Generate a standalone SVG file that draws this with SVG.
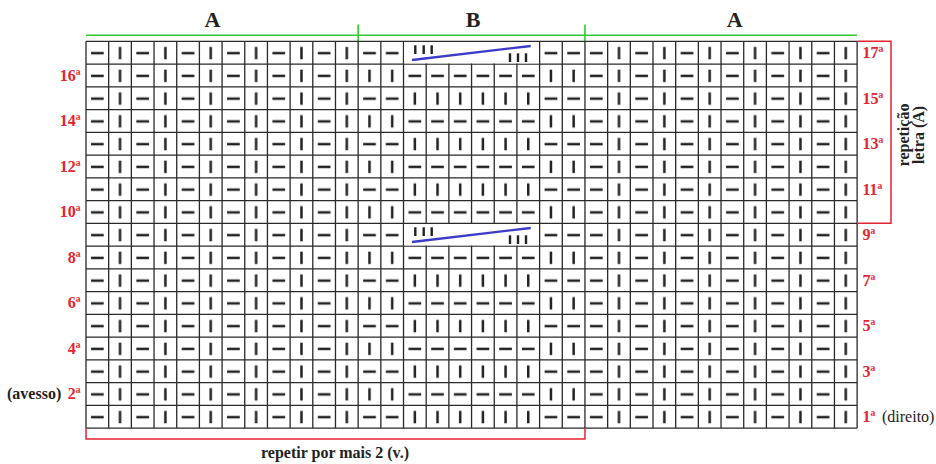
<svg xmlns="http://www.w3.org/2000/svg" xmlns:xlink="http://www.w3.org/1999/xlink" width="936" height="464" viewBox="0 0 936 464">
<style>
.lab{font-family:"Liberation Serif","Times New Roman",serif;font-weight:bold;font-size:16px;fill:#e52431}
.blk{font-family:"Liberation Serif","Times New Roman",serif;font-size:16px;fill:#222}
.b{font-weight:bold}
.hd{font-family:"Liberation Serif","Times New Roman",serif;font-weight:bold;font-size:22px;fill:#222}
.grid{fill:none;stroke:#2a2a2a;stroke-width:1.3}
.grn{fill:none;stroke:#2fcc2f;stroke-width:1.6}
.red{fill:none;stroke:#e52431;stroke-width:1.5}
.mk{fill:#222}
</style>
<defs>
<rect id="d" x="5" y="10.6" width="12.7" height="2.5" class="mk"/>
<rect id="v" x="10.1" y="5.6" width="2.5" height="12.4" class="mk"/>
<pattern id="pA" patternUnits="userSpaceOnUse" x="86" y="41.3" width="45.36" height="22.75">
<use href="#d" x="0"/><use href="#v" x="22.68"/>
</pattern>
<pattern id="pB" patternUnits="userSpaceOnUse" x="358.16" y="41.3" width="226.8" height="45.5">
<use href="#d" x="0"/><use href="#d" x="22.68"/>
<use href="#v" x="45.36"/><use href="#v" x="68.04"/><use href="#v" x="90.72"/><use href="#v" x="113.4"/><use href="#v" x="136.08"/><use href="#v" x="158.76"/>
<use href="#d" x="181.44"/><use href="#d" x="204.12"/>
<use href="#v" x="0" y="22.75"/><use href="#v" x="22.68" y="22.75"/>
<use href="#d" x="45.36" y="22.75"/><use href="#d" x="68.04" y="22.75"/><use href="#d" x="90.72" y="22.75"/><use href="#d" x="113.4" y="22.75"/><use href="#d" x="136.08" y="22.75"/><use href="#d" x="158.76" y="22.75"/>
<use href="#v" x="181.44" y="22.75"/><use href="#v" x="204.12" y="22.75"/>
</pattern>
<g id="cable">
<rect x="404.2" y="42" width="134.7" height="21.4" fill="#fff"/>
<line x1="412" y1="60" x2="530.7" y2="46" stroke="#3c3cc8" stroke-width="2.3"/>
<rect x="414.1" y="45.3" width="2.4" height="8.7" class="mk"/>
<rect x="422.5" y="45.3" width="2.4" height="8.7" class="mk"/>
<rect x="430.5" y="45.3" width="2.4" height="8.7" class="mk"/>
<rect x="508.8" y="53.3" width="2.4" height="8.7" class="mk"/>
<rect x="516.8" y="53.3" width="2.4" height="8.7" class="mk"/>
<rect x="524.8" y="53.3" width="2.4" height="8.7" class="mk"/>
</g>
</defs>
<rect width="936" height="464" fill="#fff"/>

<g id="headers">
<text class="hd" x="212.5" y="27.3" text-anchor="middle">A</text>
<text class="hd" x="473" y="27.3" text-anchor="middle">B</text>
<text class="hd" x="734.7" y="27.3" text-anchor="middle">A</text>
<path class="grn" d="M86 35.3H857.1M358.16 24.5V41.3M584.96 24.5V41.3"/>
</g>

<g id="chart">
<rect x="86" y="41.3" width="272.16" height="386.75" fill="url(#pA)"/>
<rect x="584.96" y="41.3" width="272.16" height="386.75" fill="url(#pA)"/>
<rect x="358.16" y="41.3" width="226.8" height="386.75" fill="url(#pB)"/>
<path class="grid" d="M86 41.3H857.12M86 64.05H857.12M86 86.8H857.12M86 109.55H857.12M86 132.3H857.12M86 155.05H857.12M86 177.8H857.12M86 200.55H857.12M86 223.3H857.12M86 246.05H857.12M86 268.8H857.12M86 291.55H857.12M86 314.3H857.12M86 337.05H857.12M86 359.8H857.12M86 382.55H857.12M86 405.3H857.12M86 428.05H857.12
M86 41.3V428.05M108.68 41.3V428.05M131.36 41.3V428.05M154.04 41.3V428.05M176.72 41.3V428.05M199.4 41.3V428.05M222.08 41.3V428.05M244.76 41.3V428.05M267.44 41.3V428.05M290.12 41.3V428.05M312.8 41.3V428.05M335.48 41.3V428.05M358.16 41.3V428.05M380.84 41.3V428.05M403.52 41.3V428.05M426.2 41.3V428.05M448.88 41.3V428.05M471.56 41.3V428.05M494.24 41.3V428.05M516.92 41.3V428.05M539.6 41.3V428.05M562.28 41.3V428.05M584.96 41.3V428.05M607.64 41.3V428.05M630.32 41.3V428.05M653 41.3V428.05M675.68 41.3V428.05M698.36 41.3V428.05M721.04 41.3V428.05M743.72 41.3V428.05M766.4 41.3V428.05M789.08 41.3V428.05M811.76 41.3V428.05M834.44 41.3V428.05M857.12 41.3V428.05"/>
<use href="#cable"/>
<use href="#cable" y="182"/>
</g>

<g id="left-labels">
<text class="lab" x="80.5" y="81" text-anchor="end">16ª</text>
<text class="lab" x="80.5" y="126.4" text-anchor="end">14ª</text>
<text class="lab" x="80.5" y="171.9" text-anchor="end">12ª</text>
<text class="lab" x="80.5" y="217.4" text-anchor="end">10ª</text>
<text class="lab" x="80.5" y="262.9" text-anchor="end">8ª</text>
<text class="lab" x="80.5" y="308.4" text-anchor="end">6ª</text>
<text class="lab" x="80.5" y="353.9" text-anchor="end">4ª</text>
<text class="lab" x="80.5" y="399.4" text-anchor="end">2ª</text>
<text class="blk b" x="7" y="399.4">(avesso)</text>
</g>

<g id="right-labels">
<text class="lab" x="862.5" y="58.2">17ª</text>
<text class="lab" x="862.5" y="103.7">15ª</text>
<text class="lab" x="862.5" y="149.2">13ª</text>
<text class="lab" x="862.5" y="194.7">11ª</text>
<text class="lab" x="862.5" y="240.2">9ª</text>
<text class="lab" x="862.5" y="285.7">7ª</text>
<text class="lab" x="862.5" y="331.2">5ª</text>
<text class="lab" x="862.5" y="376.7">3ª</text>
<text class="lab" x="862.5" y="422.2">1ª</text>
<text class="blk" x="882" y="422.2">(direito)</text>
</g>

<g id="repeat-A">
<path class="red" d="M857.12 41.3H891V223.3H857.12"/>
<text class="blk b" transform="translate(909 135) rotate(-90)" text-anchor="middle">repetição</text>
<text class="blk b" transform="translate(924 135) rotate(-90)" text-anchor="middle">letra (A)</text>
</g>

<g id="repeat-bottom">
<path class="red" d="M86 428.05V439H584.96V428.05"/>
<text class="blk b" x="335" y="457.5" text-anchor="middle">repetir por mais 2 (v.)</text>
</g>
</svg>
